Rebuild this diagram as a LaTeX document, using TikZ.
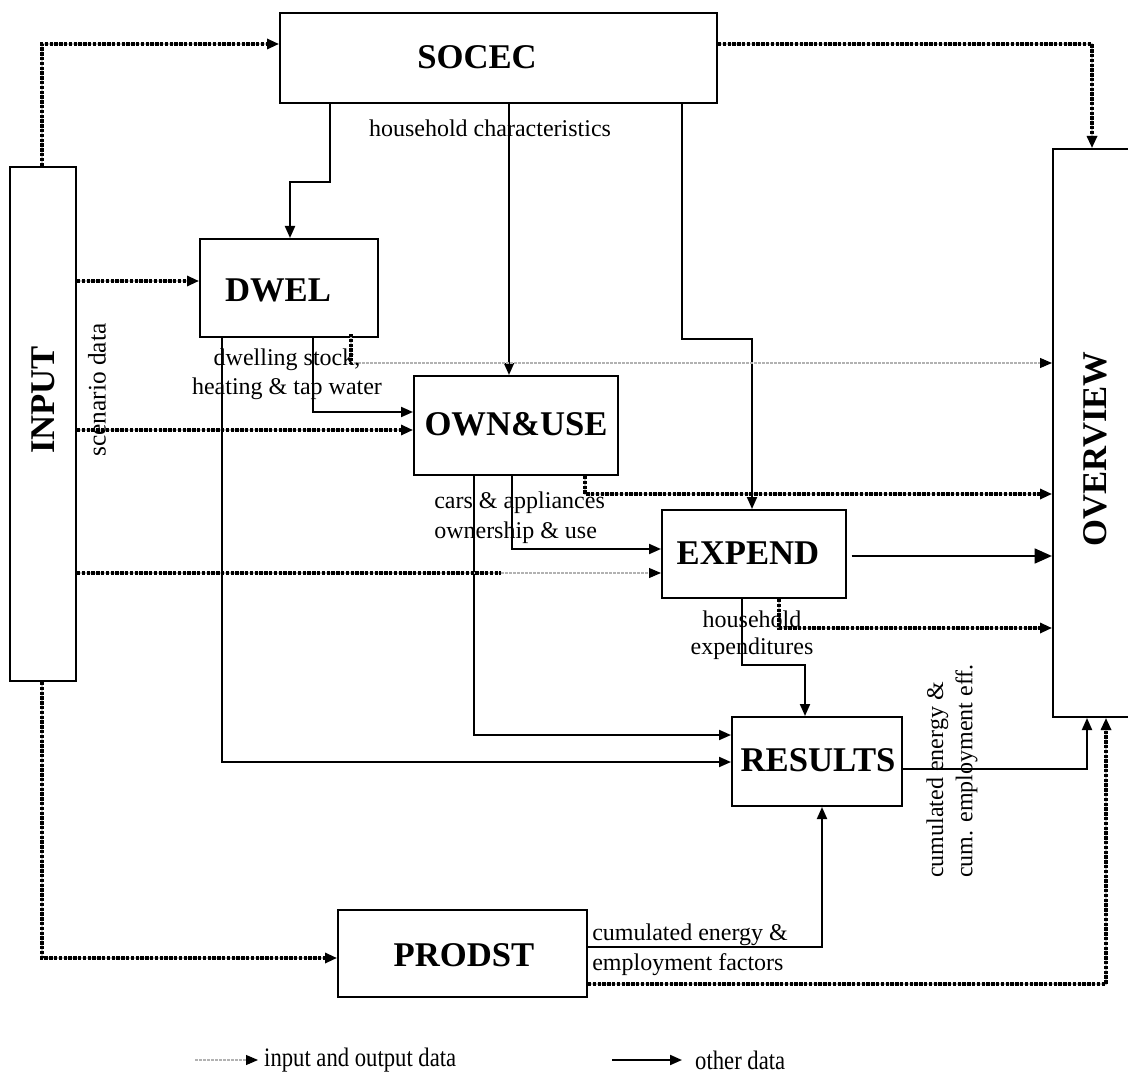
\documentclass[tikz,border=0pt]{standalone}
\usepackage{fontspec}
\setmainfont{Liberation Serif}
\usetikzlibrary{fit,arrows.meta}
\tikzset{
  box/.style={draw, line width=1.5pt, inner sep=0pt, fill=white},
  ttl/.style={font=\fontsize{26}{30}\selectfont\bfseries, inner sep=0pt},
  lbl/.style={font=\fontsize{18}{22}\selectfont, inner sep=0pt},
  tip/.style={-{Triangle[length=9pt,width=7.5pt]}},
  sarr/.style={line width=1.5pt, tip},
  bigarr/.style={line width=2pt, -{Triangle[length=13pt,width=11pt]}},
  dots/.style={line width=2.4pt, dash pattern=on 2.6pt off 1pt,
     preaction={draw, gray!45, line width=0.8pt, solid}},
  darr/.style={dots, tip},
  garr/.style={gray!60, line width=0.8pt, dash pattern=on 2pt off 1pt,
     -{Triangle[length=9pt,width=7.5pt,black]}},
}
\begin{document}
\begin{tikzpicture}[x=0.75pt,y=-0.75pt]
\useasboundingbox[fill=white] (0,0) rectangle (1128,1084);

% boxes
\node[box, fit={(280,13) (717,103)}] (socec) {};
\node[box, fit={(10,167) (76,681)}] (input) {};
\node[box, fit={(200,239) (378,337)}] (dwel) {};
\node[box, fit={(414,376) (618,475)}] (ownuse) {};
\node[box, fit={(662,510) (846,598)}] (expend) {};
\node[box, fit={(732,717) (902,806)}] (results) {};
\node[box, fit={(1053,149) (1140,717)}] (overview) {};
\node[box, fit={(338,910) (587,997)}] (prodst) {};

% titles
\node[ttl] (tsocec) at (477,57) {SOCEC};
\node[ttl, rotate=90] (tinput) at (43,400) {INPUT};
\node[ttl] (tdwel) at (278,290) {DWEL};
\node[ttl] (townuse) at (516,424) {OWN\&USE};
\node[ttl] (texpend) at (748,553) {EXPEND};
\node[ttl] (tresults) at (818,760) {RESULTS};
\node[ttl, rotate=90] (toverview) at (1095,449) {OVERVIEW};
\node[ttl] (tprodst) at (464,955) {PRODST};

% solid connectors
\draw[sarr] (socec.south -| 330,0) -- ++(0,78) -| (dwel.north -| 290,0);
\draw[sarr] (socec.south -| 509,0) -- (ownuse.north -| 509,0);
\draw[sarr] (socec.south -| 682,0) -- ++(0,235) -| (expend.north -| 752,0);
\draw[sarr] (dwel.south -| 313,0) |- (ownuse.west |- 0,412);
\draw[sarr] (dwel.south -| 222,0) |- (results.west |- 0,762);
\draw[sarr] (ownuse.south -| 474,0) |- (results.west |- 0,735);
\draw[sarr] (ownuse.south -| 512,0) |- (expend.west |- 0,549);
\draw[bigarr] ([xshift=3.5pt]expend.east |- 0,556) -- (overview.west |- 0,556);
\draw[sarr] (expend.south -| 742,0) -- ++(0,66) -| (results.north -| 805,0);
\draw[sarr] (results.east |- 0,769) -| (overview.south -| 1087,0);
\draw[sarr] (prodst.east |- 0,947) -| (results.south -| 822,0);

% dotted connectors (input and output data)
\draw[darr] (input.north -| 42,0) |- (socec.west |- 0,44);
\draw[darr] (socec.east |- 0,44) -| (overview.north -| 1092,0);
\draw[darr] (input.east |- 0,281) -- (dwel.west |- 0,281);
\draw[darr] (input.east |- 0,430) -- (ownuse.west |- 0,430);
\draw[garr] (input.east |- 0,573) -- (expend.west |- 0,573);
\draw[dots] (input.east |- 0,573) -- ++(424,0);
\draw[garr] (dwel.south -| 351,0) |- (overview.west |- 0,363);
\draw[dots] ([yshift=3pt]dwel.south -| 351,0) -- ++(0,30);
\draw[darr] (ownuse.south -| 585,0) |- (overview.west |- 0,494);
\draw[darr] (expend.south -| 779,0) |- (overview.west |- 0,628);
\draw[darr] (input.south -| 42,0) |- (prodst.west |- 0,958);
\draw[darr] (prodst.east |- 0,984) -| (overview.south -| 1106,0);

% labels
\node[lbl, rotate=90, font=\fontsize{19}{22}\selectfont] (scen) at (97,390) {scenario data};
\node[lbl] (lhc) at (490,128) {household characteristics};
\node[lbl, align=center, font=\fontsize{18}{22}\selectfont] (ldw) at (287,374) {dwelling stock,\\heating \& tap water};
\node[lbl, align=left, anchor=west, font=\fontsize{18}{22.5}\selectfont] (lcars) at (434,518) {cars \& appliances\\ownership \& use};
\node[lbl, align=center, font=\fontsize{18}{20}\selectfont] (lhe) at (752,635) {household\\expenditures};
\node[lbl, align=left, anchor=west, rotate=90, font=\fontsize{18}{22}\selectfont] (lce) at (952,878) {cumulated energy \&\\cum. employment eff.};
\node[lbl, align=left, anchor=west, font=\fontsize{18}{22.5}\selectfont] (lcf) at (592,950) {cumulated energy \&\\employment factors};

% legend
\coordinate (lga) at (195,1060);
\coordinate (lgb) at (258,1060);
\draw[garr] (lga) -- (lgb);
\node[lbl, anchor=west, font=\fontsize{20}{22}\selectfont, xscale=0.85, transform shape] (lgt) at (264,1060) {input and output data};
\coordinate (lsa) at (612,1060);
\coordinate (lsb) at (682,1060);
\draw[sarr] (lsa) -- (lsb);
\node[lbl, anchor=west, font=\fontsize{20}{22}\selectfont, xscale=0.85, transform shape] (lst) at (695,1060) {other data};
\end{tikzpicture}
\end{document}
